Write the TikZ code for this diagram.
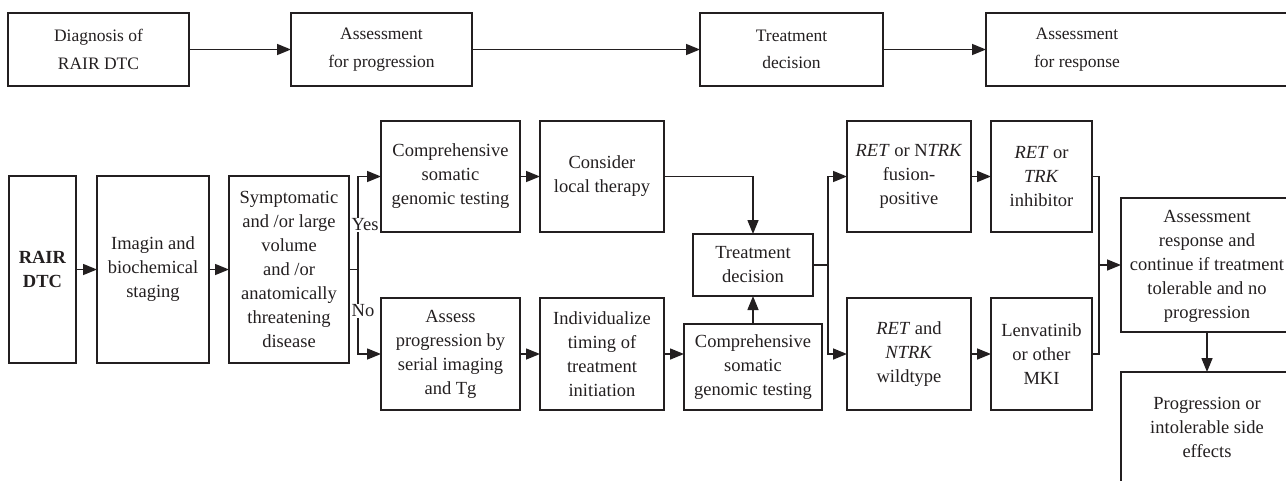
\documentclass[tikz,border=0pt]{standalone}
\usepackage{fontspec}
\setmainfont{Liberation Serif}
\usetikzlibrary{arrows.meta,calc}
\definecolor{ink}{RGB}{35,31,32}
\begin{document}
\begin{tikzpicture}[x=1pt,y=-1pt,
  every node/.style={inner sep=0pt,outer sep=0pt,text=ink},
  box/.style={draw=ink,line width=1.6pt,align=center},
  topbox/.style={box,minimum height=73pt,font=\fontsize{17.5}{27.5}\selectfont},
  lowbox/.style={box,font=\fontsize{18.5}{24}\selectfont},
  txt/.style={align=center,font=\fontsize{18.5}{24}\selectfont},
  lbl/.style={fill=white,inner sep=1pt,font=\fontsize{18.5}{24}\selectfont},
  line/.style={draw=ink,line width=1.5pt},
  arr/.style={line,-{Triangle[length=14pt,width=11pt]}}]
\useasboundingbox (0,0) rectangle (1286,480);
% top row
\node[topbox,minimum width=181pt] (d1) at (98.5,49.5) {Diagnosis of\\RAIR DTC};
\node[topbox,minimum width=181pt] (d2) at (381.5,49.5) {Assessment\\for progression};
\node[topbox,minimum width=183pt] (d3) at (791.5,49.5) {Treatment\\decision};
\node[topbox,minimum width=320pt,anchor=west] (d4) at (986,49.5) {};
\node[align=center,font=\fontsize{17.5}{27.5}\selectfont] (d4t) at (1077,49.5) {Assessment\\for response};
\draw[arr] (d1) -- (d2);
\draw[arr] (d2) -- (d3);
\draw[arr] (d3) -- (d4);
% bottom
\node[lowbox,minimum width=67pt,minimum height=187pt] (rair) at (42.5,269.5) {\textbf{RAIR}\\\textbf{DTC}};
\node[lowbox,minimum width=112pt,minimum height=187pt] (imag) at (153,269.5) {Imagin and\\biochemical\\staging};
\node[lowbox,minimum width=120pt,minimum height=187pt] (symp) at (289,269.5) {Symptomatic\\and /or large\\volume\\and /or\\anatomically\\threatening\\disease};
\node[lowbox,minimum width=139pt,minimum height=111pt] (comp1) at (450.5,176.5) {Comprehensive\\somatic\\genomic testing};
\node[lowbox,minimum width=124pt,minimum height=111pt] (cons) at (602,176.5) {Consider\\local therapy};
\node[lowbox,minimum width=139pt,minimum height=112pt] (assess) at (450.5,354) {Assess\\progression by\\serial imaging\\and Tg};
\node[lowbox,minimum width=124pt,minimum height=112pt] (indiv) at (602,354) {Individualize\\timing of\\treatment\\initiation};
\node[lowbox,minimum width=120pt,minimum height=62pt] (td) at (753,265) {Treatment\\decision};
\node[lowbox,minimum width=138pt,minimum height=86pt] (comp2) at (753,367) {Comprehensive\\somatic\\genomic testing};
\node[lowbox,minimum width=124pt,minimum height=111pt] (ret1) at (909,176.5) {\textit{RET} or N\textit{TRK}\\fusion-\\positive};
\node[lowbox,minimum width=101pt,minimum height=111pt] (inh) at (1041.5,176.5) {\textit{RET} or\\\textit{TRK}\\inhibitor};
\node[lowbox,minimum width=124pt,minimum height=112pt] (ret2) at (909,354) {\textit{RET} and\\\textit{NTRK}\\wildtype};
\node[lowbox,minimum width=101pt,minimum height=112pt] (len) at (1041.5,354) {Lenvatinib\\or other\\MKI};
\node[box,minimum width=185pt,minimum height=134pt,anchor=west] (resp) at (1121,265) {};
\node[txt] (respt) at (1207,266) {Assessment\\response and\\continue if treatment\\tolerable and no\\progression};
\node[box,minimum width=185pt,minimum height=140pt,anchor=north west] (prog) at (1121,372) {};
\node[txt] (progt) at (1207,427) {Progression or\\intolerable side\\effects};
% connectors
\coordinate (br) at (358,269.5);
\coordinate (br2) at (828,265);
\coordinate (mg) at (1099,265);
\draw[arr] (rair) -- (imag);
\draw[arr] (imag) -- (symp);
\draw[line] (symp.east) -- (br);
\draw[arr] (br) |- (comp1.west);
\draw[arr] (br) |- (assess.west);
\node[lbl] (yes) at (365,225) {Yes};
\node[lbl] (no) at (363,311) {No};
\draw[arr] (comp1) -- (cons);
\draw[arr] (assess) -- (indiv);
\draw[arr] (indiv.east) -- (indiv.east -| comp2.west);
\draw[arr] (cons.east) -| (td.north);
\draw[arr] (comp2.north) -- (td.south);
\draw[line] (td.east) -- (br2);
\draw[arr] (br2) |- (ret1.west);
\draw[arr] (br2) |- (ret2.west);
\draw[arr] (ret1) -- (inh);
\draw[arr] (ret2) -- (len);
\draw[line] (inh.east) -| (mg) |- (len.east);
\draw[arr] (mg) -- (resp.west);
\draw[arr] (respt |- resp.south) -- (respt |- prog.north);
\end{tikzpicture}
\end{document}
